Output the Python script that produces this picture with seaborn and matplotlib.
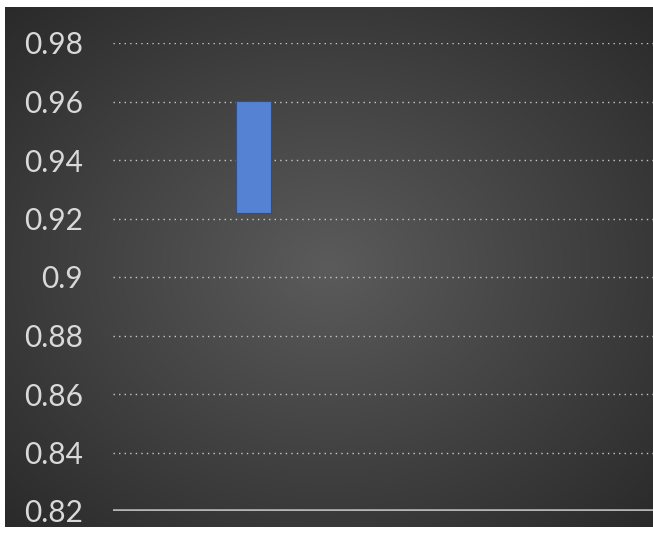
import numpy as np
import pandas as pd
import matplotlib
matplotlib.use("Agg")
import matplotlib.pyplot as plt
import seaborn as sns

categories = ["Series 1"]
low_values = [0.922]
high_values = [0.960]
y_ticks = [0.82, 0.84, 0.86, 0.88, 0.90, 0.92, 0.94, 0.96, 0.98]
y_tick_labels = ["0.82", "0.84", "0.86", "0.88", "0.9", "0.92", "0.94", "0.96", "0.98"]

sns.set_style("white")
plt.rcParams['font.family'] = ['Lato', 'DejaVu Sans']

W, H = 653, 535
fig = plt.figure(figsize=(W / 100, H / 100), dpi=100)
fig.patch.set_facecolor("white")

# radial gradient background
bg = fig.add_axes([5 / W, 1 - 527 / H, (W - 5) / W, (527 - 7) / H])
bg.set_axis_off()
yy, xx = np.mgrid[-1:1:300j, -1:1:400j]
r = np.sqrt(xx ** 2 + yy ** 2) / np.sqrt(2)
inner = np.array([0x5b, 0x5b, 0x5b]) / 255
outer = np.array([0x2a, 0x2a, 0x2a]) / 255
img = inner[None, None, :] * (1 - r[..., None]) + outer[None, None, :] * r[..., None]
bg.imshow(img, aspect="auto", extent=[0, 1, 0, 1])
bg.set_zorder(0)

df = pd.DataFrame({"cat": categories,
                   "span": np.array(high_values) - np.array(low_values),
                   "low": low_values})

ax = fig.add_axes([113 / W, 1 - 511 / H, (W - 113) / W, (511 - 43) / H])
ax.set_zorder(1)
ax.patch.set_alpha(0)

sns.barplot(data=df, x="cat", y="span", bottom=df["low"].to_numpy(), ax=ax,
            color="#5582d2", saturation=1, width=0.8, edgecolor="#2f4f86", linewidth=0.8,
            zorder=3)

ax.set_ylim(0.82, 0.98)
ax.set_xlim(-3.21, 9.13)
ax.set_yticks(y_ticks)
ax.set_yticklabels(y_tick_labels)
ax.set_xticks([])
ax.set_xlabel("")
ax.set_ylabel("")
ax.tick_params(axis="y", length=0, pad=21.5, labelsize=21.5, labelcolor="#d9d9d9")
for lab in ax.get_yticklabels():
    lab.set_horizontalalignment("right")

for t in y_ticks[1:]:
    ax.axhline(t, color="#c8c8c8", linestyle=(0, (1, 3)), linewidth=1, zorder=1)
ax.axhline(0.82, color="#c4c4c4", linestyle="-", linewidth=2.6, zorder=2, alpha=0.9)

for s in ax.spines.values():
    s.set_visible(False)

fig.savefig("out.png", dpi=100, facecolor="white")
